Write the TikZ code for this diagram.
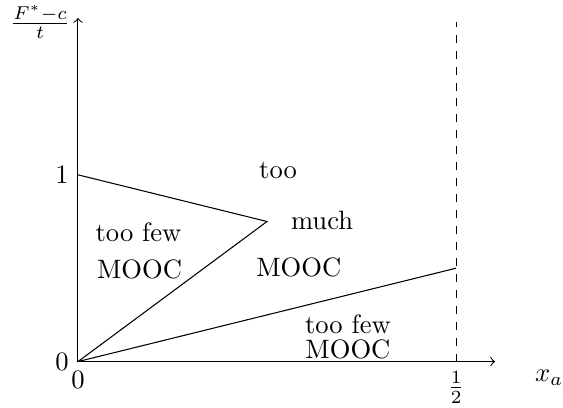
\documentclass[tikz,border=0pt]{standalone}
\begin{document}
\begin{tikzpicture}[x=10cm, y=2.47cm]
\useasboundingbox (-0.1031,-0.246) rectangle (0.6414,1.936);
\coordinate (o) at (0,0);
\coordinate (xend) at (0.5516,0);
\coordinate (yend) at (0,1.84);
\coordinate (one) at (0,1);
\coordinate (tip) at (0.25,0.75);
\coordinate (half) at (0.5,0.5);
\coordinate (halfbot) at (0.5,0);
\coordinate (halftop) at (0.5,1.818);
\draw[->] (o) -- (xend);
\draw[->] (o) -- (yend);
\draw[dashed] (halfbot) -- (halftop);
\draw (one) -- (tip) -- (o);
\draw (o) -- (half);
\node[left] (l0) at (o) {0};
\node[below] (b0) at (o) {0};
\node[left] (l1) at (one) {1};
\node (bhalf) at (0.5,-0.14) {$\frac{1}{2}$};
\node (xa) at (0.623,-0.086) {$x_a$};
\node (ylab) at (-0.050,1.818) {$\frac{F^{*}-c}{t}$};
\node (too) at (0.2646,1.021) {too};
\node (much) at (0.3228,0.754) {much};
\node (fewl) at (0.080,0.690) {too few};
\node (moocl) at (0.0814,0.492) {MOOC};
\node (moocm) at (0.292,0.503) {MOOC};
\node (fewr) at (0.357,0.198) {too few};
\node (moocr) at (0.357,0.064) {MOOC};
\end{tikzpicture}
\end{document}
